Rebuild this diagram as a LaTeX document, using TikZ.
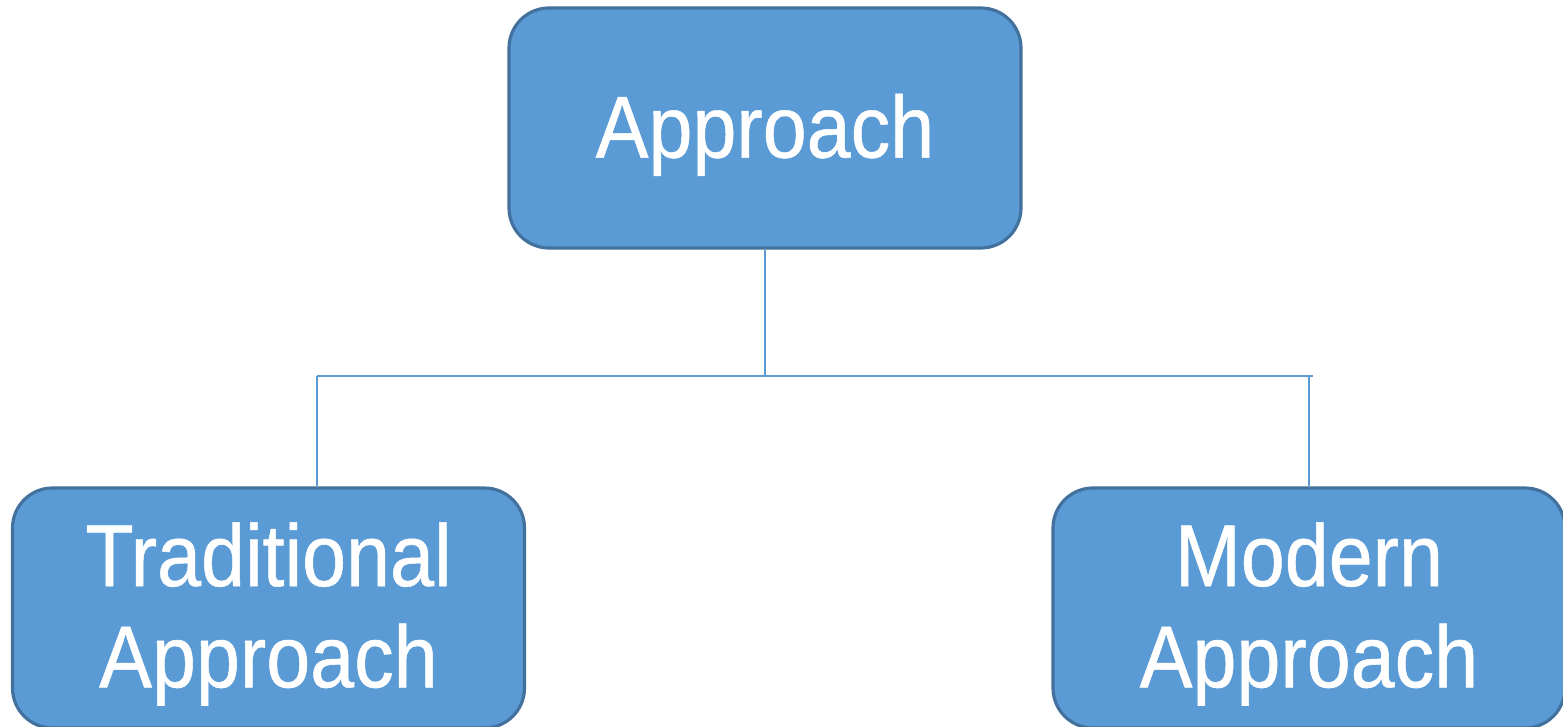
\documentclass[tikz,border=0pt]{standalone}
\usepackage{fontspec}
\setmainfont[FakeStretch=0.9,FakeBold=0.6]{Liberation Sans}
\usepackage{tikz}
\usepackage{xcolor}
\definecolor{BleuFond}{HTML}{5B9BD5}
\definecolor{BleuBord}{HTML}{41719C}
\newcommand{\Haut}[1]{\rule{0pt}{#1}}
\tikzset{
Boite/.style={
 draw=BleuBord, 
 fill=BleuFond, 
 line width=0.9pt, 
 rounded corners=0.4cm, 
 minimum width=5.12cm, 
 minimum height=2.4cm, 
 text=white, 
 align=center, 
 font=\fontsize{25}{28.8}\selectfont
 },
Lien/.style={
 draw=BleuFond, 
 line width=0.6pt
 }
}
\begin{document}
\begin{tikzpicture}
\useasboundingbox (0,0) rectangle (15.63,7.27);
\node[Boite] (approche) at (7.65,5.99) {\Haut{22pt}Approach};
\node[Boite] (tradi) at (2.685,1.19) {\Haut{21.5pt}Traditional\\Approach};
\node[Boite] (moderne) at (13.09,1.19) {\Haut{21.5pt}Modern\\Approach};
\coordinate (busG) at (3.17,3.51);
\coordinate (busD) at (13.13,3.51);
\coordinate (busM) at (13.09,3.51);
\draw[Lien] (approche.south) -- (approche.south |- busG);
\draw[Lien] (busG) -- (busD);
\draw[Lien] (busG) -- (busG |- tradi.north);
\draw[Lien] (busM) -- (busM |- moderne.north);
\end{tikzpicture}
\end{document}
